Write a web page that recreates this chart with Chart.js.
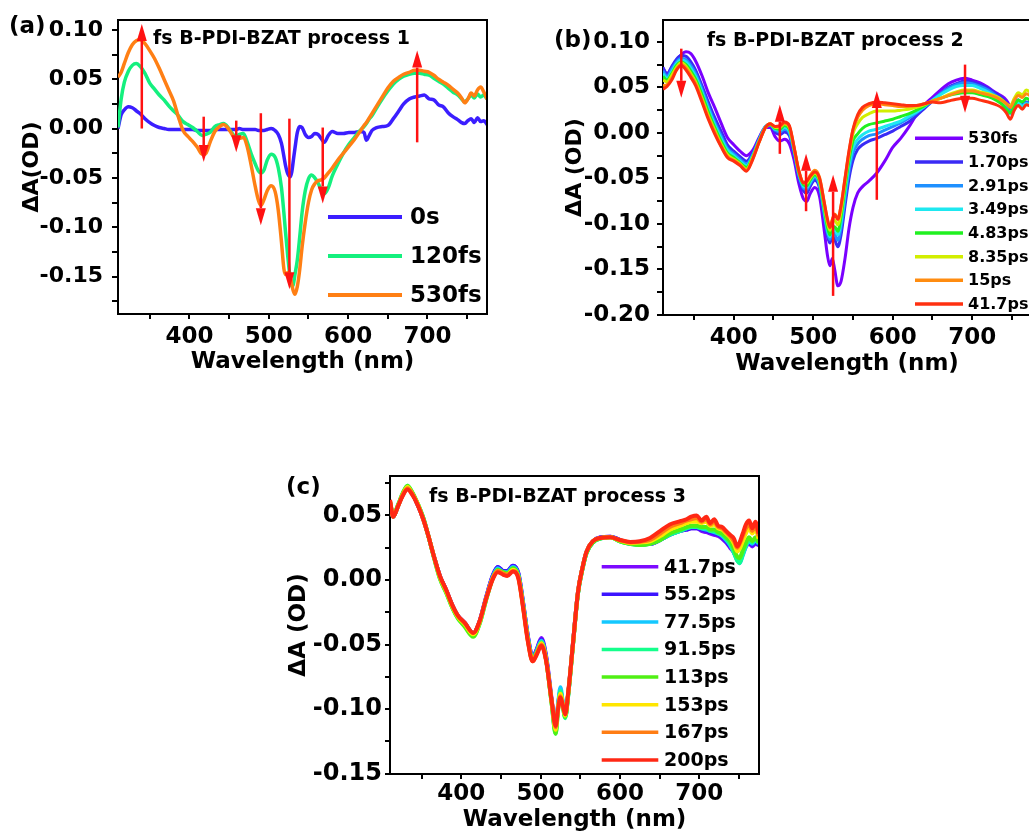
<!DOCTYPE html>
<html><head><meta charset="utf-8">
<script src="https://cdn.jsdelivr.net/npm/chart.js@4.4.1/dist/chart.umd.min.js"></script>
<style>
html,body{margin:0;padding:0;background:#fff;width:1029px;height:832px;overflow:hidden;position:relative}
.pane{position:absolute}
canvas{display:block}
</style></head><body>
<div class="pane" style="left:0;top:0;width:500px;height:380px"><canvas id="ca" width="500" height="380" style="width:500px;height:380px"></canvas></div>
<div class="pane" style="left:550px;top:0;width:500px;height:380px"><canvas id="cb" width="500" height="380" style="width:500px;height:380px"></canvas></div>
<div class="pane" style="left:280px;top:470px;width:500px;height:364px"><canvas id="cc" width="500" height="364" style="width:500px;height:364px"></canvas></div>
<script>
// ---------- tick labels ----------
const xTickLabels = [400, 500, 600, 700];
const yTickLabelsA = ['0.10', '0.05', '0.00', '-0.05', '-0.10', '-0.15'];
const yTickLabelsB = ['0.10', '0.05', '0.00', '-0.05', '-0.10', '-0.15', '-0.20'];
const yTickLabelsC = ['0.05', '0.00', '-0.05', '-0.10', '-0.15'];

// ---------- panel (a) ----------
const labelsA = ['0s', '120fs', '530fs'];
const wlA = [310,314,318,323,328,333,338,344,350,356,
  362,368,374,380,386,392,398,404,410,416,
  420,426,432,438,443,448,453,458,463,468,
  473,478,483,487,490,494,498,503,508,512,
  516,519,521,524,527,529,531,533,536,539,
  542,546,550,554,558,562,566,570,575,580,
  587,594,601,608,615,620,623,626,630,636,
  643,650,657,664,670,677,684,690,696,702,
  708,714,720,726,732,738,743,747,751,755,
  759,763,767,771,775];
const a0s = [0.000,0.014,0.019,0.022,0.021,0.018,0.015,0.010,0.006,0.003,
  0.001,0.000,-0.001,-0.001,-0.001,-0.001,-0.001,-0.001,-0.002,-0.002,
  -0.002,-0.002,-0.001,-0.001,-0.001,-0.001,-0.001,-0.001,0.000,-0.001,
  -0.001,-0.001,-0.001,-0.002,-0.002,-0.002,-0.001,0.000,-0.002,-0.006,
  -0.015,-0.028,-0.037,-0.046,-0.049,-0.044,-0.032,-0.020,-0.004,0.002,
  0.001,-0.006,-0.009,-0.008,-0.005,-0.006,-0.010,-0.014,-0.007,-0.003,
  -0.005,-0.005,-0.004,-0.004,-0.003,-0.004,-0.012,-0.008,-0.002,0.001,
  0.002,0.003,0.010,0.018,0.025,0.030,0.032,0.033,0.034,0.030,
  0.029,0.024,0.022,0.016,0.012,0.009,0.006,0.005,0.008,0.010,
  0.006,0.011,0.007,0.008,0.004];
const a120fs = [0.001,0.030,0.047,0.058,0.064,0.066,0.063,0.056,0.046,0.040,
  0.034,0.029,0.023,0.018,0.013,0.007,0.004,0.001,-0.003,-0.007,
  -0.006,-0.004,0.002,0.004,0.005,0.002,-0.004,-0.008,-0.006,-0.005,
  -0.014,-0.026,-0.036,-0.043,-0.045,-0.042,-0.032,-0.026,-0.029,-0.040,
  -0.060,-0.085,-0.104,-0.130,-0.152,-0.160,-0.158,-0.148,-0.133,-0.110,
  -0.085,-0.063,-0.051,-0.047,-0.050,-0.055,-0.062,-0.066,-0.060,-0.048,
  -0.036,-0.025,-0.016,-0.009,-0.002,0.002,0.005,0.009,0.013,0.021,
  0.030,0.038,0.045,0.050,0.053,0.055,0.056,0.056,0.055,0.054,
  0.051,0.048,0.045,0.041,0.037,0.034,0.030,0.027,0.030,0.034,
  0.031,0.035,0.032,0.034,0.030];
const a530fs = [0.052,0.057,0.066,0.077,0.085,0.089,0.090,0.086,0.079,0.071,
  0.061,0.050,0.039,0.028,0.012,-0.002,-0.008,-0.013,-0.019,-0.026,
  -0.026,-0.014,-0.003,0.002,0.004,0.001,-0.005,-0.010,-0.010,-0.009,
  -0.019,-0.038,-0.059,-0.073,-0.078,-0.072,-0.063,-0.058,-0.064,-0.083,
  -0.115,-0.142,-0.148,-0.146,-0.150,-0.158,-0.165,-0.168,-0.160,-0.143,
  -0.120,-0.095,-0.075,-0.062,-0.056,-0.053,-0.052,-0.050,-0.045,-0.040,
  -0.032,-0.025,-0.018,-0.011,-0.003,0.003,0.006,0.010,0.015,0.023,
  0.032,0.041,0.048,0.052,0.055,0.057,0.059,0.059,0.058,0.057,
  0.054,0.050,0.047,0.044,0.040,0.036,0.031,0.026,0.030,0.036,
  0.033,0.039,0.042,0.037,0.030];
const arrowAx = [340, 418, 459, 490, 526, 568, 687];
const arrowAfrom = [0.000, 0.012, 0.008, 0.0155, 0.010, 0.001, -0.014];
const arrowAto = [0.106, -0.034, -0.024, -0.098, -0.163, -0.076, 0.079];

// ---------- panel (b) ----------
const labelsB = ['530fs', '1.70ps', '2.91ps', '3.49ps', '4.83ps', '8.35ps', '15ps', '41.7ps'];
const wlB = [311,316,322,328,334,340,346,352,360,368,
  376,384,392,400,408,416,424,432,440,446,
  452,458,464,470,476,482,488,492,496,502,
  508,514,518,521,524,527,531,535,540,545,
  550,556,562,570,580,590,600,610,620,630,
  640,650,660,670,680,690,700,710,720,730,
  738,743,748,753,758,763,768,774];
const b530fs = [0.071,0.065,0.072,0.080,0.086,0.089,0.087,0.079,0.063,0.044,
  0.028,0.011,-0.005,-0.013,-0.020,-0.025,-0.019,-0.005,0.006,0.006,
  -0.004,-0.009,-0.007,-0.012,-0.030,-0.056,-0.073,-0.075,-0.067,-0.060,
  -0.070,-0.108,-0.135,-0.146,-0.138,-0.150,-0.168,-0.163,-0.138,-0.105,
  -0.082,-0.066,-0.059,-0.053,-0.044,-0.031,-0.016,-0.006,0.006,0.020,
  0.031,0.039,0.047,0.054,0.058,0.060,0.058,0.055,0.050,0.044,
  0.040,0.036,0.030,0.033,0.036,0.030,0.033,0.031];
const b170ps = [0.072,0.064,0.073,0.081,0.085,0.084,0.078,0.069,0.052,0.034,
  0.017,0.002,-0.013,-0.020,-0.026,-0.031,-0.022,-0.006,0.007,0.009,
  0.001,-0.002,0.001,-0.003,-0.024,-0.050,-0.064,-0.066,-0.059,-0.052,
  -0.061,-0.094,-0.114,-0.121,-0.113,-0.117,-0.125,-0.112,-0.080,-0.050,
  -0.030,-0.018,-0.013,-0.009,-0.006,-0.002,0.002,0.007,0.012,0.019,
  0.027,0.035,0.043,0.050,0.054,0.057,0.056,0.053,0.049,0.043,
  0.038,0.033,0.027,0.032,0.036,0.031,0.034,0.032];
const b291ps = [0.068,0.062,0.070,0.078,0.082,0.080,0.074,0.065,0.048,0.029,
  0.012,-0.003,-0.017,-0.023,-0.029,-0.034,-0.024,-0.007,0.007,0.009,
  0.003,0.001,0.004,0.000,-0.021,-0.047,-0.061,-0.062,-0.056,-0.049,
  -0.058,-0.090,-0.110,-0.117,-0.109,-0.111,-0.118,-0.104,-0.072,-0.042,
  -0.022,-0.012,-0.007,-0.003,-0.001,0.003,0.007,0.011,0.016,0.022,
  0.029,0.036,0.043,0.049,0.053,0.055,0.054,0.051,0.047,0.041,
  0.035,0.029,0.024,0.031,0.035,0.030,0.033,0.031];
const b349ps = [0.065,0.060,0.067,0.076,0.080,0.078,0.071,0.062,0.045,0.026,
  0.009,-0.006,-0.019,-0.025,-0.031,-0.036,-0.025,-0.008,0.007,0.009,
  0.004,0.003,0.006,0.002,-0.019,-0.045,-0.059,-0.060,-0.054,-0.047,
  -0.056,-0.087,-0.107,-0.114,-0.105,-0.106,-0.112,-0.098,-0.066,-0.036,
  -0.016,-0.007,-0.002,0.002,0.004,0.007,0.010,0.013,0.018,0.023,
  0.029,0.036,0.042,0.047,0.051,0.052,0.052,0.049,0.045,0.039,
  0.032,0.026,0.021,0.029,0.033,0.029,0.032,0.030];
const b483ps = [0.062,0.058,0.065,0.074,0.078,0.075,0.068,0.059,0.042,0.023,
  0.006,-0.009,-0.022,-0.027,-0.033,-0.038,-0.026,-0.009,0.006,0.009,
  0.005,0.004,0.008,0.004,-0.018,-0.044,-0.057,-0.058,-0.052,-0.046,
  -0.054,-0.084,-0.104,-0.112,-0.103,-0.103,-0.108,-0.092,-0.060,-0.030,
  -0.009,-0.001,0.005,0.009,0.011,0.013,0.015,0.018,0.021,0.025,
  0.030,0.035,0.038,0.041,0.043,0.044,0.044,0.042,0.040,0.036,
  0.031,0.026,0.022,0.030,0.036,0.034,0.038,0.035];
const b835ps = [0.058,0.056,0.063,0.072,0.077,0.073,0.065,0.056,0.038,0.019,
  0.003,-0.012,-0.024,-0.029,-0.034,-0.040,-0.027,-0.009,0.006,0.010,
  0.006,0.006,0.010,0.006,-0.017,-0.043,-0.055,-0.055,-0.050,-0.044,
  -0.052,-0.080,-0.099,-0.107,-0.099,-0.096,-0.101,-0.086,-0.054,-0.024,
  -0.001,0.010,0.017,0.021,0.024,0.024,0.024,0.025,0.026,0.028,
  0.031,0.035,0.038,0.042,0.045,0.047,0.047,0.045,0.043,0.040,
  0.036,0.032,0.030,0.038,0.044,0.042,0.047,0.044];
const b15ps = [0.052,0.053,0.060,0.070,0.075,0.071,0.063,0.054,0.036,0.017,
  0.001,-0.014,-0.026,-0.030,-0.035,-0.041,-0.028,-0.010,0.006,0.010,
  0.007,0.007,0.011,0.007,-0.016,-0.042,-0.054,-0.053,-0.047,-0.041,
  -0.049,-0.077,-0.096,-0.104,-0.095,-0.089,-0.094,-0.080,-0.050,-0.021,
  0.003,0.017,0.025,0.030,0.032,0.031,0.030,0.029,0.029,0.030,
  0.032,0.035,0.038,0.041,0.044,0.046,0.046,0.044,0.042,0.039,
  0.035,0.032,0.028,0.036,0.041,0.039,0.043,0.040];
const b417ps = [0.048,0.051,0.058,0.069,0.074,0.069,0.061,0.052,0.034,0.015,
  -0.001,-0.015,-0.027,-0.031,-0.036,-0.042,-0.029,-0.010,0.006,0.010,
  0.007,0.008,0.012,0.008,-0.016,-0.042,-0.055,-0.053,-0.048,-0.043,
  -0.050,-0.077,-0.095,-0.104,-0.096,-0.090,-0.095,-0.080,-0.050,-0.020,
  0.004,0.020,0.028,0.032,0.034,0.033,0.032,0.031,0.030,0.030,
  0.032,0.034,0.033,0.035,0.037,0.038,0.038,0.036,0.034,0.031,
  0.027,0.022,0.015,0.025,0.030,0.026,0.031,0.029];
const arrowBx = [334, 458, 491, 525, 580, 691];
const arrowBfrom = [0.0925, -0.023, -0.086, -0.179, -0.0735, 0.075];
const arrowBto = [0.0385, 0.031, -0.023, -0.046, 0.046, 0.022];

// ---------- panel (c) ----------
const labelsC = ['41.7ps', '55.2ps', '77.5ps', '91.5ps', '113ps', '153ps', '167ps', '200ps'];
const wlC = [310,314,320,326,332,338,345,352,358,366,
  373,381,389,396,404,415,423,431,440,446,
  453,458,465,472,478,484,490,495,501,507,
  514,519,522,525,528,531,535,541,547,553,
  558,566,575,588,600,613,625,638,651,663,
  676,684,690,697,703,709,714,719,724,729,
  734,739,744,748,751,755,759,763,767,771,775];
const c417ps = [0.060,0.049,0.057,0.066,0.071,0.067,0.058,0.047,0.035,0.017,
  0.003,-0.008,-0.020,-0.028,-0.033,-0.041,-0.032,-0.014,0.004,0.010,
  0.007,0.007,0.011,0.005,-0.018,-0.044,-0.060,-0.054,-0.045,-0.059,
  -0.093,-0.116,-0.098,-0.087,-0.096,-0.105,-0.087,-0.048,-0.010,0.010,
  0.022,0.030,0.033,0.0335,0.031,0.028,0.028,0.028,0.031,0.035,
  0.038,0.039,0.040,0.040,0.038,0.037,0.036,0.035,0.034,0.032,
  0.029,0.025,0.021,0.016,0.015,0.020,0.026,0.028,0.026,0.028,0.027];
const c552ps = [0.060,0.049,0.057,0.066,0.071,0.067,0.058,0.047,0.035,0.017,
  0.003,-0.008,-0.020,-0.028,-0.033,-0.041,-0.032,-0.014,0.004,0.010,
  0.007,0.007,0.011,0.005,-0.018,-0.044,-0.060,-0.054,-0.046,-0.060,
  -0.094,-0.115,-0.097,-0.086,-0.095,-0.104,-0.087,-0.048,-0.010,0.010,
  0.022,0.030,0.033,0.0335,0.031,0.028,0.028,0.028,0.031,0.035,
  0.038,0.039,0.040,0.040,0.039,0.038,0.037,0.036,0.035,0.033,
  0.030,0.026,0.022,0.017,0.016,0.021,0.027,0.029,0.027,0.029,0.027];
const c775ps = [0.060,0.049,0.057,0.066,0.072,0.067,0.059,0.048,0.035,0.017,
  0.002,-0.009,-0.021,-0.029,-0.034,-0.042,-0.033,-0.015,0.003,0.009,
  0.006,0.006,0.010,0.004,-0.019,-0.045,-0.061,-0.055,-0.047,-0.061,
  -0.095,-0.117,-0.097,-0.083,-0.095,-0.106,-0.088,-0.049,-0.011,0.009,
  0.021,0.029,0.032,0.033,0.030,0.028,0.0275,0.028,0.031,0.035,
  0.038,0.040,0.041,0.041,0.040,0.039,0.038,0.037,0.036,0.034,
  0.031,0.027,0.021,0.015,0.013,0.019,0.026,0.030,0.028,0.031,0.028];
const c915ps = [0.060,0.050,0.058,0.067,0.073,0.068,0.059,0.048,0.035,0.016,
  0.001,-0.010,-0.022,-0.030,-0.035,-0.043,-0.034,-0.016,0.002,0.008,
  0.006,0.005,0.009,0.003,-0.020,-0.046,-0.062,-0.056,-0.048,-0.062,
  -0.096,-0.119,-0.100,-0.086,-0.097,-0.107,-0.088,-0.049,-0.011,0.009,
  0.021,0.029,0.032,0.033,0.030,0.028,0.027,0.028,0.031,0.035,
  0.038,0.040,0.041,0.041,0.040,0.040,0.038,0.038,0.036,0.035,
  0.032,0.028,0.021,0.015,0.013,0.020,0.027,0.031,0.029,0.032,0.029];
const c113ps = [0.061,0.050,0.058,0.067,0.073,0.068,0.059,0.048,0.035,0.016,
  0.001,-0.010,-0.022,-0.030,-0.036,-0.044,-0.034,-0.016,0.002,0.008,
  0.006,0.005,0.009,0.003,-0.020,-0.046,-0.062,-0.056,-0.049,-0.062,
  -0.096,-0.119,-0.101,-0.088,-0.098,-0.106,-0.088,-0.049,-0.011,0.009,
  0.021,0.029,0.032,0.033,0.030,0.028,0.027,0.028,0.031,0.036,
  0.039,0.041,0.042,0.042,0.041,0.041,0.039,0.039,0.037,0.036,
  0.033,0.030,0.024,0.018,0.017,0.023,0.029,0.033,0.030,0.033,0.029];
const c153ps = [0.061,0.049,0.057,0.066,0.072,0.067,0.059,0.047,0.035,0.017,
  0.002,-0.009,-0.021,-0.029,-0.034,-0.042,-0.033,-0.015,0.002,0.007,
  0.005,0.004,0.008,0.002,-0.021,-0.047,-0.062,-0.057,-0.049,-0.062,
  -0.095,-0.116,-0.099,-0.088,-0.096,-0.105,-0.087,-0.049,-0.010,0.010,
  0.022,0.030,0.0325,0.033,0.0305,0.0285,0.029,0.030,0.034,0.039,
  0.042,0.044,0.045,0.045,0.044,0.045,0.042,0.043,0.040,0.039,
  0.036,0.033,0.028,0.022,0.024,0.030,0.036,0.040,0.036,0.039,0.032];
const c167ps = [0.061,0.049,0.057,0.066,0.071,0.067,0.058,0.047,0.035,0.017,
  0.003,-0.008,-0.020,-0.028,-0.033,-0.041,-0.032,-0.015,0.002,0.007,
  0.005,0.004,0.007,0.002,-0.021,-0.047,-0.063,-0.057,-0.050,-0.062,
  -0.094,-0.114,-0.099,-0.090,-0.097,-0.104,-0.086,-0.048,-0.010,0.010,
  0.022,0.030,0.0325,0.033,0.031,0.029,0.0295,0.031,0.036,0.041,
  0.044,0.046,0.047,0.048,0.045,0.047,0.043,0.045,0.041,0.040,
  0.037,0.034,0.030,0.025,0.028,0.034,0.040,0.043,0.038,0.042,0.034];
const c200ps = [0.062,0.049,0.057,0.065,0.070,0.066,0.058,0.047,0.035,0.017,
  0.003,-0.008,-0.020,-0.028,-0.033,-0.041,-0.032,-0.015,0.001,0.006,
  0.004,0.003,0.0065,0.001,-0.022,-0.048,-0.063,-0.058,-0.051,-0.063,
  -0.094,-0.113,-0.100,-0.091,-0.097,-0.104,-0.086,-0.048,-0.010,0.010,
  0.022,0.030,0.0325,0.033,0.031,0.0295,0.030,0.0325,0.038,0.043,
  0.0455,0.047,0.049,0.050,0.046,0.049,0.044,0.047,0.042,0.041,
  0.038,0.035,0.032,0.026,0.029,0.036,0.043,0.046,0.040,0.045,0.036];

// ---------- styling ----------
const FONT = "'DejaVu Sans', 'Liberation Sans', Arial, sans-serif";
const ARROW = 'rgb(255,18,18)';
const colorsA = ['#3b1eff', '#14f07e', '#ff7f14'];
const colorsB = ['#7a00ff', '#3a2bf5', '#1e90ff', '#1ee8f0', '#20f020', '#d2ee00', '#ff8c10', '#ff3010'];
const colorsC = ['#7d0aff', '#3c14ff', '#14c8ff', '#14ff8c', '#50f014', '#ffe600', '#ff7d14', '#ff2814'];

function fmtY(v) { return (Math.round(v * 100) / 100).toFixed(2); }

const framePlugin = {
  id: 'frame',
  afterDatasetsDraw(chart) {
    const {ctx, chartArea: a} = chart;
    ctx.save();
    ctx.strokeStyle = '#000'; ctx.lineWidth = 2;
    ctx.beginPath(); ctx.moveTo(a.left, a.top); ctx.lineTo(a.right, a.top); ctx.lineTo(a.right, a.bottom); ctx.stroke();
    ctx.restore();
  }
};

function arrowPlugin(xs0, from, to) {
  return {
    id: 'arrows',
    afterDatasetsDraw(chart) {
      const {ctx} = chart; const xs = chart.scales.x, ys = chart.scales.y;
      ctx.save();
      ctx.strokeStyle = ARROW; ctx.fillStyle = ARROW; ctx.lineWidth = 2.5;
      xs0.forEach((w, i) => {
        const x = xs.getPixelForValue(w), y0 = ys.getPixelForValue(from[i]), y1 = ys.getPixelForValue(to[i]);
        const dir = Math.sign(y1 - y0), L = 17, H = 5;
        ctx.beginPath(); ctx.moveTo(x, y0); ctx.lineTo(x, y1 - dir * L); ctx.stroke();
        ctx.beginPath(); ctx.moveTo(x, y1); ctx.lineTo(x - H, y1 - dir * L); ctx.lineTo(x + H, y1 - dir * L); ctx.closePath(); ctx.fill();
      });
      ctx.restore();
    }
  };
}

function legendPlugin(o) {
  return {
    id: 'customLegend',
    afterDraw(chart) {
      const {ctx} = chart;
      ctx.save();
      ctx.font = 'bold ' + o.size + 'px ' + FONT;
      ctx.textBaseline = 'middle'; ctx.textAlign = 'left';
      chart.data.datasets.forEach((ds, i) => {
        const y = o.y0 + i * o.dy;
        ctx.strokeStyle = ds.borderColor; ctx.lineWidth = o.lw;
        ctx.beginPath(); ctx.moveTo(o.x0, y); ctx.lineTo(o.x0 + o.len, y); ctx.stroke();
        ctx.fillStyle = '#000';
        ctx.fillText(ds.label, o.tx, y + 1);
      });
      ctx.restore();
    }
  };
}

function textPlugin(items) {
  return {
    id: 'texts',
    afterDraw(chart) {
      const {ctx} = chart;
      ctx.save();
      ctx.fillStyle = '#000'; ctx.textBaseline = 'middle'; ctx.textAlign = 'left';
      items.forEach(t => { ctx.font = 'bold ' + t.size + 'px ' + FONT; ctx.fillText(t.text, t.x, t.y); });
      ctx.restore();
    }
  };
}

function buildChart(id, p) {
  const n = p.series.length;
  const datasets = p.series.map((vals, i) => ({
    label: p.labels[i],
    data: p.wl.map((x, j) => ({x: x, y: vals[j]})),
    borderColor: p.colors[i],
    backgroundColor: p.colors[i],
    borderWidth: p.lw,
    pointRadius: 0,
    cubicInterpolationMode: 'monotone',
    fill: false,
    order: n - i
  }));
  const zeroPad = s => { s.paddingLeft = 0; s.paddingRight = 0; s.paddingTop = 0; s.paddingBottom = 0; };
  return new Chart(document.getElementById(id), {
    type: 'line',
    data: {datasets},
    plugins: [framePlugin, arrowPlugin(p.arrows[0], p.arrows[1], p.arrows[2]), legendPlugin(p.legend), textPlugin(p.texts)],
    options: {
      responsive: false, animation: false, devicePixelRatio: 1,
      layout: {padding: {top: p.padTop, right: p.padRight, left: 0, bottom: 0}},
      plugins: {legend: {display: false}, tooltip: {enabled: false}},
      scales: {
        x: {
          type: 'linear', min: p.xmin, max: p.xmax,
          afterFit: s => { s.height = p.xH; zeroPad(s); },
          ticks: {
            stepSize: 50, includeBounds: false, autoSkip: false, maxRotation: 0, minRotation: 0,
            padding: p.xTickPad, color: '#000',
            font: {family: FONT, size: 23, weight: 'bold'},
            callback: v => xTickLabels.includes(v) ? String(v) : ''
          },
          grid: {drawOnChartArea: false, drawTicks: true, tickLength: 5, color: '#000', lineWidth: 2},
          border: {display: true, color: '#000', width: 2},
          title: {display: true, text: 'Wavelength (nm)', color: '#000',
            font: {family: FONT, size: 23, weight: 'bold'}, padding: {top: 0, bottom: p.xTitlePad}}
        },
        y: {
          type: 'linear', min: p.ymin, max: p.ymax,
          afterFit: s => { s.width = p.yW; zeroPad(s); },
          ticks: {
            stepSize: 0.025, includeBounds: false, autoSkip: false,
            padding: p.yTickPad, color: '#000',
            font: {family: FONT, size: p.yTickSize, weight: 'bold'},
            callback: v => { const s = fmtY(v); return p.yTickLabels.includes(s) && Math.abs(v / 0.05 - Math.round(v / 0.05)) < 1e-6 ? s : ''; }
          },
          grid: {drawOnChartArea: false, drawTicks: true, tickLength: p.yTickLen, color: '#000', lineWidth: 2},
          border: {display: true, color: '#000', width: 2},
          title: {display: true, text: p.yTitle, color: '#000',
            font: {family: FONT, size: p.yTitleSize, weight: 'bold'}, padding: {top: p.yTitlePad, bottom: 0}}
        }
      }
    }
  });
}

buildChart('ca', {
  wl: wlA, series: [a0s, a120fs, a530fs], labels: labelsA, colors: colorsA, lw: 3.5,
  xmin: 310, xmax: 775, ymin: -0.188, ymax: 0.11, yTickLabels: yTickLabelsA,
  padTop: 20, padRight: 13, yW: 118, xH: 66,
  xTickPad: 4, xTitlePad: 4, yTickPad: 9, yTickLen: 6, yTickSize: 22,
  yTitle: 'ΔA(OD)', yTitleSize: 22, yTitlePad: 19,
  arrows: [arrowAx, arrowAfrom, arrowAto],
  legend: {x0: 328, len: 74, tx: 410, y0: 217, dy: 39, size: 23, lw: 4},
  texts: [{text: '(a)', x: 9, y: 27, size: 23}, {text: 'fs B-PDI-BZAT process 1', x: 153, y: 39, size: 19}]
});

buildChart('cb', {
  wl: wlB, series: [b530fs, b170ps, b291ps, b349ps, b483ps, b835ps, b15ps, b417ps], labels: labelsB, colors: colorsB, lw: 3,
  xmin: 311, xmax: 774, ymin: -0.2, ymax: 0.124, yTickLabels: yTickLabelsB,
  padTop: 20, padRight: 19, yW: 113, xH: 65,
  xTickPad: 4, xTitlePad: 2, yTickPad: 7, yTickLen: 6, yTickSize: 23,
  yTitle: 'ΔA (OD)', yTitleSize: 22, yTitlePad: 12,
  arrows: [arrowBx, arrowBfrom, arrowBto],
  legend: {x0: 365, len: 48, tx: 418, y0: 138.3, dy: 23.67, size: 16, lw: 3.5},
  texts: [{text: '(b)', x: 4, y: 41.5, size: 23}, {text: 'fs B-PDI-BZAT process 2', x: 156.7, y: 40.7, size: 19}]
});

buildChart('cc', {
  wl: wlC, series: [c417ps, c552ps, c775ps, c915ps, c113ps, c153ps, c167ps, c200ps], labels: labelsC, colors: colorsC, lw: 4,
  xmin: 310, xmax: 775.5, ymin: -0.1502, ymax: 0.0805, yTickLabels: yTickLabelsC,
  padTop: 6, padRight: 21, yW: 110, xH: 60,
  xTickPad: 1, xTitlePad: 0, yTickPad: 3, yTickLen: 5, yTickSize: 24,
  yTitle: 'ΔA (OD)', yTitleSize: 23, yTitlePad: 5,
  arrows: [[], [], []],
  legend: {x0: 321.7, len: 56.6, tx: 384, y0: 96.7, dy: 27.6, size: 19, lw: 3.5},
  texts: [{text: '(c)', x: 6, y: 18, size: 23}, {text: 'fs B-PDI-BZAT process 3', x: 149, y: 26.7, size: 19}]
});
</script>
</body></html>
